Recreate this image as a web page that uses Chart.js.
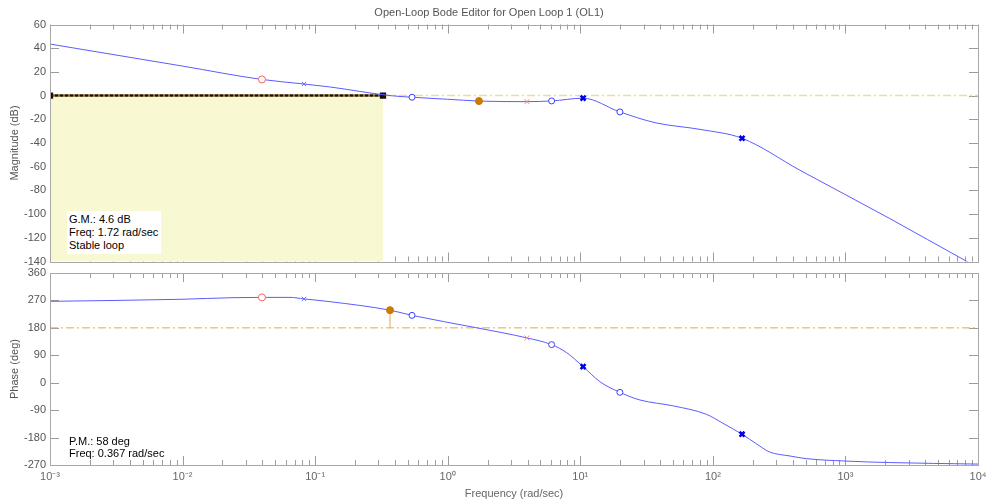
<!DOCTYPE html>
<html lang="en">
<head>
<meta charset="UTF-8">
<title>Open-Loop Bode Editor</title>
<script src="https://cdn.jsdelivr.net/npm/chart.js@4"></script>
<style>
  body { margin: 0; background: #fff; width: 986px; height: 504px; position: relative; overflow: hidden;
         font-family: "Liberation Sans", Arial, sans-serif; }
  canvas { position: absolute; left: 0; }
  #magCanvas { top: 0; }
  #phaseCanvas { top: 262px; }
  .note { position: absolute; font-size: 11px; color: #000; line-height: 13px; white-space: nowrap; }
  #gmNote { left: 67px; top: 211px; width: 94px; height: 43px; padding: 2px 0 0 2px; box-sizing: border-box; background: #fff; }
  #pmNote { left: 69px; top: 435px; line-height: 12px; }
</style>
</head>
<body>
<canvas id="magCanvas" width="986" height="268"></canvas>
<canvas id="phaseCanvas" width="986" height="242"></canvas>
<div id="gmNote" class="note">G.M.: 4.6 dB<br>Freq: 1.72 rad/sec<br>Stable loop</div>
<div id="pmNote" class="note">P.M.: 58 deg<br>Freq: 0.367 rad/sec</div>

<script>
// frequency axis (rad/sec)
const decades = [1e-3, 1e-2, 1e-1, 1, 10, 100, 1000, 10000];
const decadeLabels = ['10⁻³', '10⁻²', '10⁻¹', '10⁰', '10¹', '10²', '10³', '10⁴'];
const minorSteps = [2, 3, 4, 5, 6, 7, 8, 9];

// open-loop magnitude
const magFreq = [0.001, 0.01, 0.0397, 0.0824, 0.129, 0.367, 0.538, 1.0, 1.72, 3.96, 6.08, 10.5, 19.9, 37.2, 80, 166, 454, 2140, 8110, 10000];
const magDb   = [43.5, 24.9, 13.6, 9.8, 7.3, 0, -1.4, -3.1, -4.6, -5.1, -4.5, -2.2, -13.8, -23, -28.5, -36, -63, -103.5, -139.5, -145];

// open-loop phase
const phaseFreq = [0.001, 0.00957, 0.024, 0.0397, 0.0646, 0.0824, 0.129, 0.367, 0.538, 1.66, 3.96, 6.08, 7.9, 10.5, 14.1, 19.9, 28.2, 50.3, 89.8, 119, 166, 214, 267, 382, 505, 1000, 2140, 10000];
const phaseDeg  = [267, 273.7, 279, 280, 280, 275, 266, 238, 221, 180, 147, 125, 98.5, 52.6, 3, -31.5, -56.7, -76, -104, -133, -169, -201, -227, -240.5, -249, -257, -262, -267];

// compensator / plant markers
const redZeroFreq = [0.0397],  redZeroMag = [13.6],  redZeroPhase = [280];
const thinPoleFreq = [0.0824], thinPoleMag = [9.8],  thinPolePhase = [275];
const pinkPoleFreq = [3.96],   pinkPoleMag = [-5.1], pinkPolePhase = [147];
const zeroFreq = [0.538, 6.08, 19.9], zeroMag = [-1.4, -4.5, -13.8], zeroPhase = [221, 125, -31.5];
const poleFreq = [10.5, 166],         poleMag = [-2.2, -36],          polePhase = [52.6, -169];

// margins
const gmFreq = [1.72], gmMag = [-4.6];
const pmFreq = [0.367], pmPhase = [238];
const bandFreq = [0.001, 0.325];
const magRef = 0, phaseRef = 180;
const freqEnd = 10000;

Chart.defaults.font.family = '"Liberation Sans", Arial, sans-serif';
Chart.defaults.font.size = 11;
Chart.defaults.color = '#555';
Chart.defaults.animation = false;

const pts = (xs, ys) => xs.map((x, i) => ({x: x, y: ys[i]}));

// MATLAB style box with inward ticks on all sides
const boxTicks = {
  id: 'boxTicks',
  beforeDatasetsDraw(chart) {
    const {ctx, chartArea: a, scales: {x, y}} = chart;
    ctx.save();
    ctx.strokeStyle = '#9c9c9c';
    ctx.lineWidth = 1;
    ctx.beginPath();
    const vTick = (v, len) => {
      const px = Math.round(x.getPixelForValue(v)) + 0.5;
      ctx.moveTo(px, a.top); ctx.lineTo(px, a.top + len);
      ctx.moveTo(px, a.bottom); ctx.lineTo(px, a.bottom - len);
    };
    decades.forEach((d, i) => {
      vTick(d, 9);
      if (i < decades.length - 1) minorSteps.forEach(m => vTick(d * m, 5));
    });
    y.ticks.forEach(t => {
      const py = Math.round(y.getPixelForValue(t.value)) + 0.5;
      ctx.moveTo(a.left, py); ctx.lineTo(a.left + 9, py);
      ctx.moveTo(a.right, py); ctx.lineTo(a.right - 9, py);
    });
    ctx.stroke();
    ctx.restore();
  },
  afterDatasetsDraw(chart) {
    const {ctx, chartArea: a} = chart;
    ctx.save();
    ctx.strokeStyle = '#a8a8a8';
    ctx.lineWidth = 1;
    ctx.strokeRect(Math.round(a.left) + 0.5, Math.round(a.top) + 0.5,
                   Math.round(a.right - a.left), Math.round(a.bottom - a.top));
    ctx.restore();
  }
};

function xAxis(showLabels) {
  return {
    type: 'logarithmic',
    min: decades[0],
    max: decades[decades.length - 1],
    display: showLabels,
    grid: {display: false, drawTicks: false},
    border: {display: false},
    afterBuildTicks: s => { s.ticks = decades.map(v => ({value: v})); },
    ticks: {padding: 5, color: '#666', maxRotation: 0, autoSkip: false,
            callback: (v, i) => decadeLabels[i]},
    title: {display: showLabels, text: 'Frequency (rad/sec)', color: '#666', padding: {top: 0, bottom: 3}},
    afterFit: s => { s.paddingLeft = 0; s.paddingRight = 0; if (showLabels) s.height = 39; }
  };
}

function yAxis(min, max, step, label) {
  return {
    min: min, max: max,
    grid: {display: false, drawTicks: false},
    border: {display: false},
    ticks: {stepSize: step, padding: 4, color: '#555'},
    title: {display: true, text: label, color: '#555', padding: {top: 8, bottom: 0}},
    afterFit: s => { s.width = 50; s.paddingTop = 0; s.paddingBottom = 0; }
  };
}

function markers(xs, ys, style, color, fill, radius, width, order) {
  return {
    data: pts(xs, ys), showLine: false, pointStyle: style, pointRadius: radius,
    pointBorderColor: color, pointBackgroundColor: fill, pointBorderWidth: width, order: order
  };
}

// magnitude panel
new Chart(document.getElementById('magCanvas'), {
  type: 'line',
  data: {
    datasets: [
      {data: pts(bandFreq, [magRef, magRef]), fill: 'start', backgroundColor: '#f8f8d2',
       borderWidth: 0, pointRadius: 0, order: 20},
      {data: pts([bandFreq[1], freqEnd], [magRef, magRef]), borderColor: '#f4d6a4', borderWidth: 1.5,
       borderDash: [8, 3, 2, 3], pointRadius: 0, order: 19},
      {data: pts(bandFreq, [magRef, magRef]), borderColor: '#8a6a30', borderWidth: 2.5, pointRadius: 0, order: 18},
      {data: pts(bandFreq, [magRef, magRef]), borderColor: '#111', borderWidth: 2, borderDash: [3, 2],
       pointStyle: 'rect', pointRadius: 3, pointBackgroundColor: '#111', pointBorderColor: '#111', order: 17},
      {data: pts(magFreq, magDb), borderColor: '#5c5cff', borderWidth: 1, pointRadius: 0,
       cubicInterpolationMode: 'monotone', order: 10},
      markers(redZeroFreq, redZeroMag, 'circle', '#f06868', '#fff', 3.5, 1, 5),
      markers(thinPoleFreq, thinPoleMag, 'crossRot', '#6a6aff', '#6a6aff', 3, 1, 5),
      markers(pinkPoleFreq, pinkPoleMag, 'crossRot', '#f08890', '#f08890', 3.5, 1, 5),
      markers(zeroFreq, zeroMag, 'circle', '#3c3cff', '#fff', 3, 1, 5),
      markers(poleFreq, poleMag, 'crossRot', '#0000e8', '#0000e8', 3.5, 2.5, 4),
      markers(gmFreq, gmMag, 'circle', '#c87800', '#cc7a00', 3.5, 1, 3)
    ]
  },
  options: {
    responsive: false,
    layout: {padding: {left: 0, right: 8, top: 0, bottom: 1}},
    scales: {x: xAxis(false), y: yAxis(-140, 60, 20, 'Magnitude (dB)')},
    plugins: {
      legend: {display: false},
      tooltip: {enabled: false},
      title: {display: true, text: 'Open-Loop Bode Editor for Open Loop 1 (OL1)', color: '#555',
              font: {size: 11, weight: 'normal'}, padding: {top: 6, bottom: 5.3}}
    }
  },
  plugins: [boxTicks]
});

// phase panel
new Chart(document.getElementById('phaseCanvas'), {
  type: 'line',
  data: {
    datasets: [
      {data: pts([decades[0], freqEnd], [phaseRef, phaseRef]), borderColor: '#eea640', borderWidth: 1,
       borderDash: [8, 3, 2, 3], pointRadius: 0, order: 19},
      {data: pts([pmFreq[0], pmFreq[0]], [phaseRef, pmPhase[0]]), borderColor: '#eea640', borderWidth: 1,
       pointRadius: 0, order: 18},
      {data: pts(phaseFreq, phaseDeg), borderColor: '#5c5cff', borderWidth: 1, pointRadius: 0,
       cubicInterpolationMode: 'monotone', order: 10},
      markers(redZeroFreq, redZeroPhase, 'circle', '#f06868', '#fff', 3.5, 1, 5),
      markers(thinPoleFreq, thinPolePhase, 'crossRot', '#6a6aff', '#6a6aff', 3, 1, 5),
      markers(pinkPoleFreq, pinkPolePhase, 'crossRot', '#f08890', '#f08890', 3.5, 1, 5),
      markers(zeroFreq, zeroPhase, 'circle', '#3c3cff', '#fff', 3, 1, 5),
      markers(poleFreq, polePhase, 'crossRot', '#0000e8', '#0000e8', 3.5, 2.5, 4),
      markers(pmFreq, pmPhase, 'circle', '#c87800', '#cc7a00', 3.5, 1, 3)
    ]
  },
  options: {
    responsive: false,
    layout: {padding: {left: 0, right: 8, top: 11, bottom: 0}},
    scales: {x: xAxis(true), y: yAxis(-270, 360, 90, 'Phase (deg)')},
    plugins: {legend: {display: false}, tooltip: {enabled: false}}
  },
  plugins: [boxTicks]
});
</script>
</body>
</html>
